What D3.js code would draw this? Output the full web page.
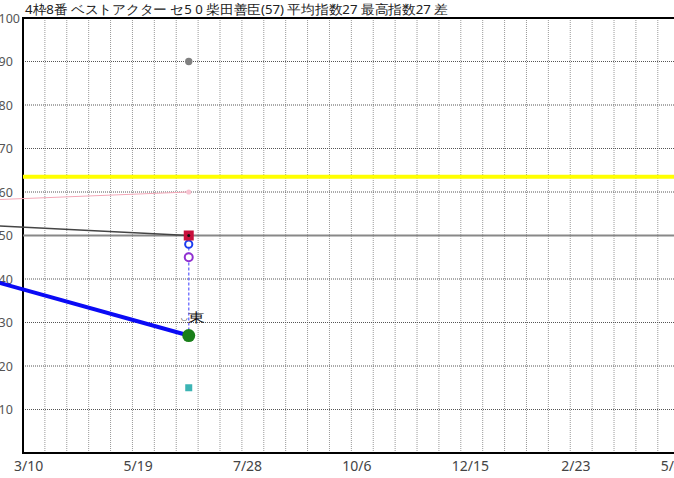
<!DOCTYPE html>
<html>
<head>
	<meta charset="utf-8">
	<title>Index Chart</title>
	<script src="https://d3js.org/d3.v7.min.js"></script>
	<style>
		body { margin: 0; background: #fff; }
		text { font-family: "Noto Sans", "DejaVu Sans", sans-serif; }
	</style>
</head>
<body>
	<svg width="674" height="478"></svg>
	<script>
		// chart values
		const titleText = "4枠8番 ベストアクター セ5 0 柴田善臣(57) 平均指数27 最高指数27 差";
		const tickDates = ["2018-03-10", "2018-05-19", "2018-07-28", "2018-10-06", "2018-12-15", "2019-02-23", "2019-05-04"];
		const yTicks = [10, 20, 30, 40, 50, 60, 70, 80, 90, 100];

		const raceDates = ["2018-02-04", "2018-06-24"];
		const blueSeries = [41, 27];
		const greySeries = [52.5, 50];
		const pinkSeries = [58, 60];

		const markerNames = ["grey", "pink", "red", "blue", "purple", "green", "teal"];
		const markerValues = [90, 60, 50, 48, 45, 27, 15];

		const yellowLevel = 63.5;
		const baseLevel = 50;
		const courseLabel = "東";

		const parse = d3.timeParse("%Y-%m-%d");
		const fmt = d3.timeFormat("%-m/%-d");

		const plotLeft = 23, plotTop = 18, plotBottom = 453;
		const pxPerDay = 21.89 / 14;

		const svg = d3.select('svg');
		const W = 674;

		const x = d3.scaleTime()
			.domain([parse(tickDates[0]), parse(tickDates[tickDates.length - 1])])
			.range([plotLeft, plotLeft + 420 * pxPerDay]);

		const y = d3.scaleLinear()
			.domain([0, 100])
			.range([plotBottom, plotTop]);

		// grid
		const gridDates = d3.range(1, 31).map(i => d3.timeDay.offset(parse(tickDates[0]), 14 * i));
		svg.append('g').selectAll('line')
			.data(gridDates)
			.enter().append('line')
			.attr('x1', d => x(d)).attr('x2', d => x(d))
			.attr('y1', plotTop).attr('y2', plotBottom)
			.attr('stroke', '#999')
			.attr('stroke-dasharray', '1,1');

		svg.append('g').selectAll('line')
			.data(yTicks.filter(d => d < 100))
			.enter().append('line')
			.attr('x1', plotLeft).attr('x2', W)
			.attr('y1', d => y(d)).attr('y2', d => y(d))
			.attr('stroke', '#555')
			.attr('stroke-dasharray', '1,1');

		// axis frame
		svg.append('line').attr('x1', plotLeft).attr('x2', W).attr('y1', y(100)).attr('y2', y(100))
			.attr('stroke', '#000').attr('stroke-width', 2);
		svg.append('line').attr('x1', plotLeft).attr('x2', W).attr('y1', y(0)).attr('y2', y(0))
			.attr('stroke', '#000').attr('stroke-width', 2);
		svg.append('line').attr('x1', plotLeft).attr('x2', plotLeft).attr('y1', y(100) - 1).attr('y2', y(0) + 1)
			.attr('stroke', '#000').attr('stroke-width', 2);

		// y labels
		svg.append('g').selectAll('text')
			.data(yTicks)
			.enter().append('text')
			.attr('x', -1.5)
			.attr('y', d => y(d))
			.attr('dy', '0.36em')
			.attr('font-size', '12.5px')
			.attr('fill', '#555')
			.text(d => d);

		// x labels
		const xl = svg.append('g').selectAll('text')
			.data(tickDates)
			.enter().append('text')
			.attr('y', 471)
			.attr('font-size', '14px')
			.attr('fill', '#444')
			.text(d => fmt(parse(d)));
		xl.attr('x', function (d) {
			const w = this.getComputedTextLength();
			return Math.min(x(parse(d)) - 9, 682 - w);
		});

		// reference lines
		svg.append('line').attr('x1', plotLeft).attr('x2', W)
			.attr('y1', y(baseLevel)).attr('y2', y(baseLevel))
			.attr('stroke', '#888').attr('stroke-width', 2);
		svg.append('line').attr('x1', plotLeft).attr('x2', W)
			.attr('y1', y(yellowLevel)).attr('y2', y(yellowLevel))
			.attr('stroke', '#ffff00').attr('stroke-width', 4);

		// series lines
		const dates = raceDates.map(parse);
		const line = d3.line().x(d => x(d[0])).y(d => y(d[1]));
		svg.append('path').datum(d3.zip(dates, pinkSeries))
			.attr('d', line).attr('fill', 'none')
			.attr('stroke', '#f4a8b8').attr('stroke-width', 1);
		svg.append('path').datum(d3.zip(dates, greySeries))
			.attr('d', line).attr('fill', 'none')
			.attr('stroke', '#444').attr('stroke-width', 1.5);
		svg.append('path').datum(d3.zip(dates, blueSeries))
			.attr('d', line).attr('fill', 'none')
			.attr('stroke', '#0a0af5').attr('stroke-width', 4);

		// markers at last race
		const rx = x(dates[1]);
		const val = name => markerValues[markerNames.indexOf(name)];

		svg.append('line')
			.attr('x1', rx).attr('x2', rx)
			.attr('y1', y(val('green'))).attr('y2', y(val('blue')))
			.attr('stroke', '#7a7aff').attr('stroke-width', 1.5)
			.attr('stroke-dasharray', '3,2');

		svg.append('circle').attr('cx', rx).attr('cy', y(val('grey'))).attr('r', 3.7).attr('fill', '#808080');
		svg.append('circle').attr('cx', rx).attr('cy', y(val('pink'))).attr('r', 2.6).attr('fill', '#f8c4d2');
		svg.append('rect').attr('x', rx - 3.5).attr('y', y(val('teal')) - 3.5)
			.attr('width', 7).attr('height', 7).attr('fill', '#3cb4b4');
		svg.append('circle').attr('cx', rx).attr('cy', y(val('purple'))).attr('r', 4)
			.attr('fill', '#fff').attr('stroke', '#9030d0').attr('stroke-width', 2);
		svg.append('circle').attr('cx', rx).attr('cy', y(val('blue'))).attr('r', 3.6)
			.attr('fill', '#fff').attr('stroke', '#1a3cf0').attr('stroke-width', 2);
		svg.append('rect').attr('x', rx - 5).attr('y', y(val('red')) - 5)
			.attr('width', 10).attr('height', 10).attr('fill', '#c8103c');
		svg.append('circle').attr('cx', rx).attr('cy', y(val('red'))).attr('r', 1.5).attr('fill', '#111');
		svg.append('circle').attr('cx', rx).attr('cy', y(val('green'))).attr('r', 6.5).attr('fill', '#1a7f1a');

		// course label
		svg.append('text')
			.attr('x', rx - 4.5).attr('y', y(val('green')) - 16)
			.attr('font-size', '8px').attr('fill', '#222')
			.attr('text-anchor', 'middle')
			.text('◡');
		svg.append('text')
			.attr('x', rx - 1).attr('y', y(val('green')) - 14)
			.attr('font-family', '"Noto Sans CJK JP", sans-serif')
			.attr('font-size', '13px').attr('fill', '#111')
			.attr('textLength', 17).attr('lengthAdjust', 'spacingAndGlyphs')
			.text(courseLabel);

		// title
		svg.append('text')
			.attr('x', 25).attr('y', 14)
			.attr('font-family', '"Noto Sans CJK JP", sans-serif')
			.attr('font-size', '12.5px').attr('fill', '#222')
			.attr('textLength', 423).attr('lengthAdjust', 'spacingAndGlyphs')
			.text(titleText);
	</script>
</body>
</html>
